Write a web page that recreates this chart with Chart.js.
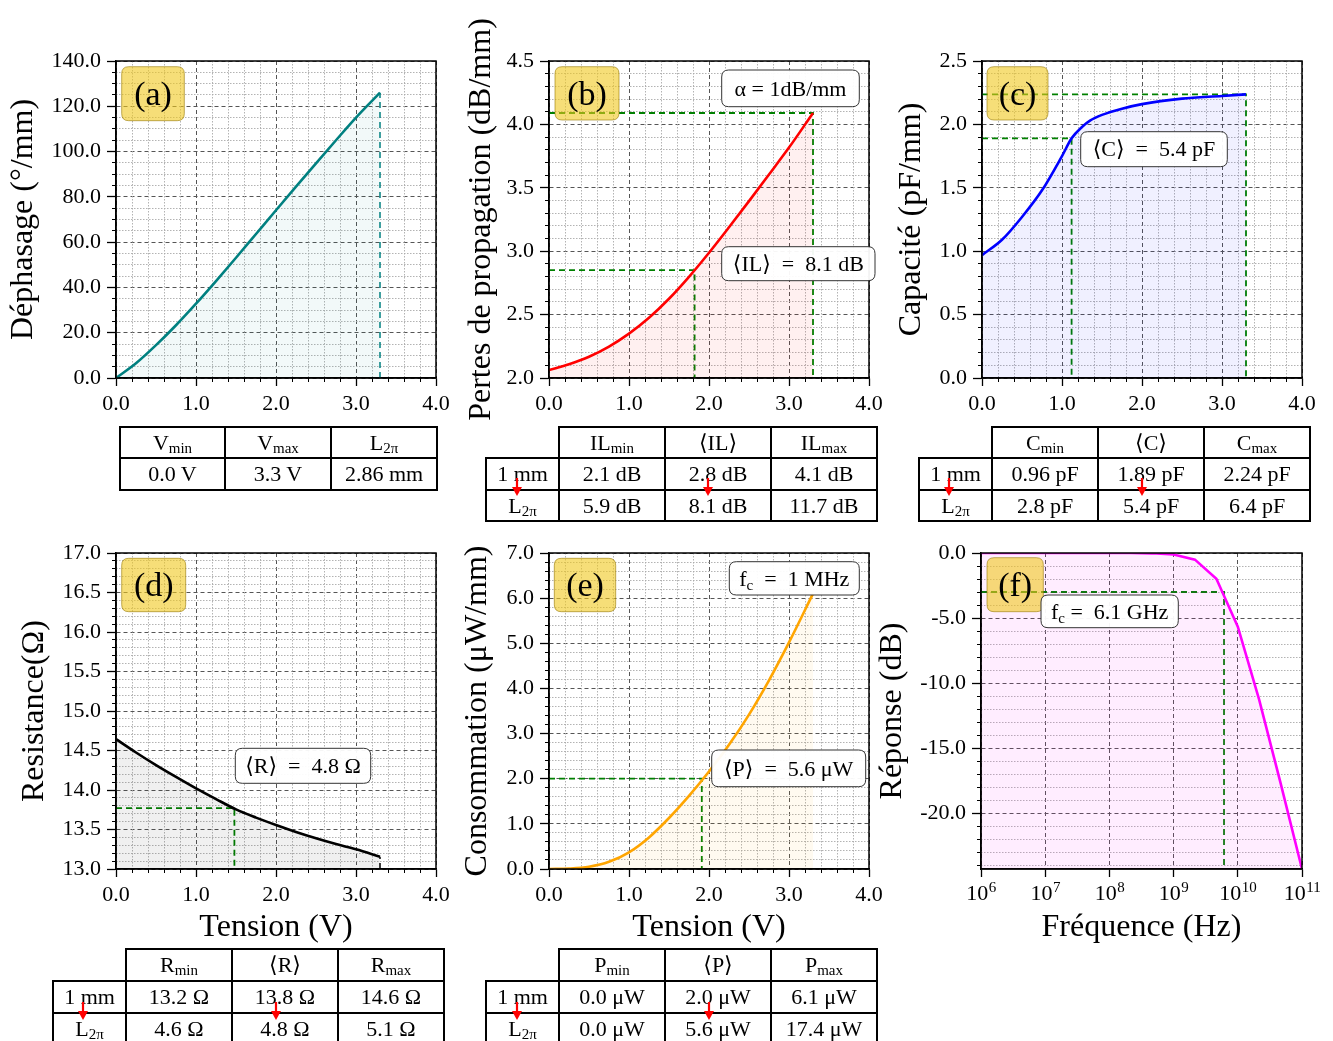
<!DOCTYPE html>
<html>
<head>
<meta charset="utf-8">
<script src="https://cdn.jsdelivr.net/npm/chart.js@4.4.1/dist/chart.umd.min.js"></script>
<style>
body { margin: 0; background: #fff; width: 1333px; height: 1041px; position: relative; overflow: hidden; }
canvas { position: absolute; left: 0; top: 0; }
table.t { position: absolute; border-collapse: collapse; table-layout: fixed; font-family: "Liberation Serif", "DejaVu Serif", serif; font-size: 22px; color: #000; }
table.t td { border: 2px solid #000; text-align: center; padding: 0; line-height: 1; white-space: nowrap; overflow: hidden; }
table.t td.e { border: none; }
table.t sub { font-size: 15px; vertical-align: -3px; line-height: 0; }
svg.arr { position: absolute; }
</style>
</head>
<body>
<canvas id="pa" width="1333" height="1041"></canvas>
<canvas id="pb" width="1333" height="1041"></canvas>
<canvas id="pc" width="1333" height="1041"></canvas>
<canvas id="pd" width="1333" height="1041"></canvas>
<canvas id="pe" width="1333" height="1041"></canvas>
<canvas id="pf" width="1333" height="1041"></canvas>

<table class="t" style="left:119px;top:426px;width:317px">
  <colgroup><col style="width:105px"><col style="width:106px"><col style="width:106px"></colgroup>
  <tr style="height:31px"><td>V<sub>min</sub></td><td>V<sub>max</sub></td><td>L<sub>2π</sub></td></tr>
  <tr style="height:32px"><td>0.0 V</td><td>3.3 V</td><td>2.86 mm</td></tr>
</table>

<table class="t" style="left:485px;top:426px;width:391px">
  <colgroup><col style="width:73px"><col style="width:106px"><col style="width:106px"><col style="width:106px"></colgroup>
  <tr style="height:31px"><td class="e"></td><td>IL<sub>min</sub></td><td>⟨IL⟩</td><td>IL<sub>max</sub></td></tr>
  <tr style="height:32px"><td>1 mm</td><td>2.1 dB</td><td>2.8 dB</td><td>4.1 dB</td></tr>
  <tr style="height:31px"><td>L<sub>2π</sub></td><td>5.9 dB</td><td>8.1 dB</td><td>11.7 dB</td></tr>
</table>

<table class="t" style="left:918px;top:426px;width:391px">
  <colgroup><col style="width:73px"><col style="width:106px"><col style="width:106px"><col style="width:106px"></colgroup>
  <tr style="height:31px"><td class="e"></td><td>C<sub>min</sub></td><td>⟨C⟩</td><td>C<sub>max</sub></td></tr>
  <tr style="height:32px"><td>1 mm</td><td>0.96 pF</td><td>1.89 pF</td><td>2.24 pF</td></tr>
  <tr style="height:31px"><td>L<sub>2π</sub></td><td>2.8 pF</td><td>5.4 pF</td><td>6.4 pF</td></tr>
</table>

<table class="t" style="left:52px;top:948px;width:391px">
  <colgroup><col style="width:73px"><col style="width:106px"><col style="width:106px"><col style="width:106px"></colgroup>
  <tr style="height:32px"><td class="e"></td><td>R<sub>min</sub></td><td>⟨R⟩</td><td>R<sub>max</sub></td></tr>
  <tr style="height:32px"><td>1 mm</td><td>13.2 Ω</td><td>13.8 Ω</td><td>14.6 Ω</td></tr>
  <tr style="height:32px"><td>L<sub>2π</sub></td><td>4.6 Ω</td><td>4.8 Ω</td><td>5.1 Ω</td></tr>
</table>

<table class="t" style="left:485px;top:948px;width:391px">
  <colgroup><col style="width:73px"><col style="width:106px"><col style="width:106px"><col style="width:106px"></colgroup>
  <tr style="height:32px"><td class="e"></td><td>P<sub>min</sub></td><td>⟨P⟩</td><td>P<sub>max</sub></td></tr>
  <tr style="height:32px"><td>1 mm</td><td>0.0 μW</td><td>2.0 μW</td><td>6.1 μW</td></tr>
  <tr style="height:32px"><td>L<sub>2π</sub></td><td>0.0 μW</td><td>5.6 μW</td><td>17.4 μW</td></tr>
</table>

<script>
// data
var tension = [0, 0.25, 0.5, 0.75, 1.0, 1.25, 1.5, 1.75, 2.0, 2.25, 2.5, 2.75, 3.0, 3.3];
var phaseShift = [0, 6.5, 14.5, 23.3, 32.8, 42.8, 53.1, 63.6, 74.1, 84.5, 94.8, 105, 115, 126];
var propLoss = [2.063, 2.109, 2.168, 2.248, 2.35, 2.475, 2.625, 2.798, 2.988, 3.189, 3.395, 3.605, 3.817, 4.09];
var power = [0, 0.01, 0.05, 0.16, 0.37, 0.70, 1.13, 1.62, 2.16, 2.75, 3.42, 4.18, 5.02, 6.1];
var resistance = [14.644, 14.475, 14.315, 14.165, 14.02, 13.885, 13.754, 13.65, 13.556, 13.468, 13.388, 13.315, 13.249, 13.156];
var capTension = [0, 0.25, 0.5, 0.75, 1.0, 1.12, 1.25, 1.35, 1.5, 1.75, 2.0, 2.5, 3.0, 3.3];
var capacity = [0.969, 1.09, 1.27, 1.48, 1.75, 1.89, 1.98, 2.03, 2.075, 2.124, 2.16, 2.203, 2.224, 2.237];
var frequency = [1e6, 2.15e6, 4.64e6, 1e7, 2.15e7, 4.64e7, 1e8, 2.15e8, 4.64e8, 1e9, 2.15e9, 4.64e9, 1e10, 2.15e10, 4.64e10, 1e11];
var response = [0, 0, 0, 0, 0, 0, -0.001, -0.005, -0.025, -0.12, -0.51, -1.98, -5.67, -11.28, -17.7, -24.3];

// tick labels
var voltTicks = [0, 1, 2, 3, 4];
var phaseTicks = [0, 20, 40, 60, 80, 100, 120, 140];
var lossTicks = [2.0, 2.5, 3.0, 3.5, 4.0, 4.5];
var capTicks = [0, 0.5, 1.0, 1.5, 2.0, 2.5];
var resTicks = [13.0, 13.5, 14.0, 14.5, 15.0, 15.5, 16.0, 16.5, 17.0];
var powerTicks = [0, 1, 2, 3, 4, 5, 6, 7];
var respTicks = [0, -5, -10, -15, -20];
var freqTicks = [1e6, 1e7, 1e8, 1e9, 1e10, 1e11];

// dashed reference lines (data units)
var lossGuides = [[[0, 4.09], [3.3, 4.09], [3.3, 2.0]], [[0, 2.85], [1.82, 2.85], [1.82, 2.0]]];
var capGuides = [[[0, 2.237], [3.3, 2.237], [3.3, 0]], [[0, 1.89], [1.12, 1.89], [1.12, 0]]];
var resGuides = [[[0, 13.77], [1.48, 13.77], [1.48, 13.0]]];
var powerGuides = [[[0, 2.0], [1.91, 2.0], [1.91, 0]]];
var respGuides = [[[1e6, -3], [6.1e9, -3], [6.1e9, -24.3]]];
var phaseEnd = [[3.3, 0], [3.3, 126]];
var resEnd = [[3.3, 13.0], [3.3, 13.156]];

var FAMILY = '"Liberation Serif", "DejaVu Serif", serif';
var PAGE_W = 1333, PAGE_H = 1041;

function pts(list) {
    return list.map(function(q) { return {x: q[0], y: q[1]}; });
}

function roundRect(ctx, x, y, w, h, r) {
    ctx.beginPath();
    ctx.moveTo(x + r, y);
    ctx.lineTo(x + w - r, y);
    ctx.quadraticCurveTo(x + w, y, x + w, y + r);
    ctx.lineTo(x + w, y + h - r);
    ctx.quadraticCurveTo(x + w, y + h, x + w - r, y + h);
    ctx.lineTo(x + r, y + h);
    ctx.quadraticCurveTo(x, y + h, x, y + h - r);
    ctx.lineTo(x, y + r);
    ctx.quadraticCurveTo(x, y, x + r, y);
    ctx.closePath();
}

// text pieces: [string, isSubscript]
function drawRich(ctx, parts, cx, cy, size) {
    var big = size + 'px ' + FAMILY, small = Math.round(size * 0.68) + 'px ' + FAMILY;
    var total = 0;
    parts.forEach(function(p) { ctx.font = p[1] ? small : big; total += ctx.measureText(p[0]).width; });
    var x = cx - total / 2;
    ctx.fillStyle = '#000';
    ctx.textBaseline = 'alphabetic';
    ctx.textAlign = 'left';
    parts.forEach(function(p) {
        ctx.font = p[1] ? small : big;
        ctx.fillText(p[0], x, cy + size * 0.33 + (p[1] ? size * 0.22 : 0));
        x += ctx.measureText(p[0]).width;
    });
}

var framePlugin = {
    id: 'frame',
    afterDatasetsDraw: function(chart) {
        var a = chart.chartArea, c = chart.ctx;
        c.save();
        c.strokeStyle = '#000';
        c.lineWidth = 1.5;
        c.strokeRect(a.left, a.top, a.right - a.left, a.bottom - a.top);
        c.restore();
    }
};

var notesPlugin = {
    id: 'notes',
    afterDraw: function(chart, args, opts) {
        var a = chart.chartArea, c = chart.ctx;
        (opts.items || []).forEach(function(n) {
            var x = a.left + n.dx, y = a.top + n.dy;
            c.save();
            roundRect(c, x, y, n.w, n.h, 7);
            if (n.tag) {
                c.fillStyle = 'rgba(240,200,30,0.6)';
                c.strokeStyle = 'rgba(150,120,0,0.6)';
            } else {
                c.fillStyle = 'rgba(255,255,255,0.95)';
                c.strokeStyle = '#333';
            }
            c.fill();
            c.lineWidth = 1;
            c.stroke();
            drawRich(c, n.parts, x + n.w / 2, y + n.h / 2, n.size);
            c.restore();
        });
    }
};

// 10^n labels with a raised exponent, placed with the x scale
var powerLabels = {
    id: 'powerLabels',
    afterDraw: function(chart, args, opts) {
        if (!opts.on) return;
        var s = chart.scales.x, c = chart.ctx, base = chart.chartArea.bottom + 31;
        c.save();
        c.fillStyle = '#000';
        c.textAlign = 'left';
        c.textBaseline = 'alphabetic';
        s.ticks.forEach(function(t) {
            var e = String(Math.round(Math.log10(t.value)));
            c.font = '22px ' + FAMILY;
            var w1 = c.measureText('10').width;
            c.font = '15px ' + FAMILY;
            var w2 = c.measureText(e).width;
            var x0 = s.getPixelForValue(t.value) - (w1 + w2) / 2;
            c.font = '22px ' + FAMILY;
            c.fillText('10', x0, base);
            c.font = '15px ' + FAMILY;
            c.fillText(e, x0 + w1 + 0.5, base - 8);
        });
        c.restore();
    }
};

function minorTicks(min, max, step, major) {
    return function(s) {
        var t = [];
        var start = Math.ceil(min / step - 1e-9) * step;
        for (var v = start; v <= max + 1e-9; v += step) {
            var r = v / major;
            if (Math.abs(r - Math.round(r)) < 1e-6) continue;
            t.push({value: +v.toFixed(6)});
        }
        s.ticks = t;
    };
}

function fixed1(v) { return Number(v).toFixed(1); }

function buildPanel(p) {
    var area = p.area; // left, top, right, bottom of the plot box
    var xH = p.xTitle ? 90 : 40;
    var tickFont = {family: FAMILY, size: 22};
    var titleFont = {family: FAMILY, size: 32, lineHeight: 1.2};

    var datasets = [{
        data: p.xs.map(function(x, i) { return {x: x, y: p.ys[i]}; }),
        borderColor: p.color,
        borderWidth: 2.6,
        backgroundColor: p.fill,
        fill: 'start',
        pointRadius: 0,
        cubicInterpolationMode: p.smooth ? 'monotone' : 'default',
        tension: 0
    }];
    (p.guides || []).forEach(function(g) {
        datasets.push({
            data: pts(g.pts),
            borderColor: g.color,
            borderWidth: g.width || 1.8,
            borderDash: [6, 4],
            pointRadius: 0,
            fill: false,
            tension: 0
        });
    });

    var scales = {
        x: {
            type: p.xType || 'linear',
            position: 'bottom',
            weight: 1,
            min: p.xMin, max: p.xMax,
            afterBuildTicks: function(s) { s.ticks = p.xTicks.map(function(v) { return {value: v}; }); },
            afterFit: function(s) { s.height = xH; },
            ticks: {display: !p.powerLabels, font: tickFont, color: '#000', padding: 5, maxRotation: 0, autoSkip: false, callback: fixed1},
            grid: {color: '#555', lineWidth: 1, tickColor: '#000', tickLength: 8, tickWidth: 1.3},
            border: {display: true, color: '#000', width: 1.5, dash: [4, 3]},
            title: {display: !!p.xTitle, text: p.xTitle, color: '#000', font: titleFont, padding: {top: 0, bottom: 11.8}}
        },
        y: {
            type: 'linear',
            position: 'left',
            weight: 1,
            min: p.yMin, max: p.yMax,
            afterBuildTicks: function(s) { s.ticks = p.yTicks.map(function(v) { return {value: v}; }); },
            afterFit: function(s) { s.width = area[0]; },
            ticks: {font: tickFont, color: '#000', padding: 6, autoSkip: false, callback: fixed1},
            grid: {color: '#555', lineWidth: 1, tickColor: '#000', tickLength: 9, tickWidth: 1.3},
            border: {display: true, color: '#000', width: 1.5, dash: [4, 3]},
            title: {display: true, text: p.yTitle, color: '#000', font: titleFont, padding: {top: p.yTitleX - 19.2, bottom: 0}}
        },
        ym: {
            type: 'linear',
            position: 'left',
            weight: 0,
            min: p.yMin, max: p.yMax,
            afterBuildTicks: minorTicks(p.yMin, p.yMax, p.yMinor, p.yMajor),
            afterFit: function(s) { s.width = 0; },
            ticks: {display: false},
            grid: {color: '#aaa', lineWidth: 0.9, tickColor: '#000', tickLength: 4, tickWidth: 1},
            border: {display: false, dash: [1.5, 1.5]}
        }
    };
    if (p.xMinor) {
        scales.xm = {
            type: 'linear',
            position: 'bottom',
            weight: 0,
            min: p.xMin, max: p.xMax,
            afterBuildTicks: minorTicks(p.xMin, p.xMax, p.xMinor, p.xMajor),
            afterFit: function(s) { s.height = 0; },
            ticks: {display: false},
            grid: {color: '#aaa', lineWidth: 0.9, tickColor: '#000', tickLength: 4, tickWidth: 1},
            border: {display: false, dash: [1.5, 1.5]}
        };
    }

    return new Chart(document.getElementById(p.id).getContext('2d'), {
        type: 'line',
        data: {datasets: datasets},
        options: {
            responsive: false,
            animation: false,
            devicePixelRatio: 1,
            events: [],
            layout: {padding: {left: 0, top: area[1], right: PAGE_W - area[2], bottom: PAGE_H - area[3] - xH}},
            scales: scales,
            plugins: {
                legend: {display: false},
                tooltip: {enabled: false},
                notes: {items: p.notes},
                powerLabels: {on: !!p.powerLabels}
            }
        },
        plugins: [framePlugin, notesPlugin, powerLabels]
    });
}

function tag(text, dx, dy, w, h) {
    return {tag: true, parts: [[text, false]], size: 34, dx: dx, dy: dy, w: w, h: h};
}

document.addEventListener('DOMContentLoaded', function() {
    var green = '#008000';

    buildPanel({
        id: 'pa', area: [116, 61, 436, 378],
        xs: tension, ys: phaseShift, color: '#008080', fill: 'rgba(0,128,128,0.05)', smooth: true,
        xMin: 0, xMax: 4, xTicks: voltTicks, xMinor: 0.2, xMajor: 1,
        yMin: 0, yMax: 140, yTicks: phaseTicks, yMinor: 5, yMajor: 20,
        yTitle: 'Déphasage (°/mm)', yTitleX: 24,
        guides: [{pts: phaseEnd, color: '#008080', width: 1.5}],
        notes: [tag('(a)', 5.7, 5.7, 62.6, 54)]
    });

    buildPanel({
        id: 'pb', area: [549, 61, 869, 378],
        xs: tension, ys: propLoss, color: '#ff0000', fill: 'rgba(255,0,0,0.06)', smooth: true,
        xMin: 0, xMax: 4, xTicks: voltTicks, xMinor: 0.2, xMajor: 1,
        yMin: 2, yMax: 4.5, yTicks: lossTicks, yMinor: 0.1, yMajor: 0.5,
        yTitle: 'Pertes de propagation (dB/mm)', yTitleX: 482,
        guides: lossGuides.map(function(g) { return {pts: g, color: green}; }),
        notes: [
            tag('(b)', 6, 5.7, 64, 53.3),
            {parts: [['α = 1dB/mm', false]], size: 22, dx: 172.7, dy: 9, w: 137.6, h: 36.7},
            {parts: [['⟨IL⟩  =  8.1 dB', false]], size: 22, dx: 172.7, dy: 185.7, w: 153.3, h: 34}
        ]
    });

    buildPanel({
        id: 'pc', area: [982, 61, 1302, 378],
        xs: capTension, ys: capacity, color: '#0000ff', fill: 'rgba(0,0,255,0.06)', smooth: true,
        xMin: 0, xMax: 4, xTicks: voltTicks, xMinor: 0.2, xMajor: 1,
        yMin: 0, yMax: 2.5, yTicks: capTicks, yMinor: 0.1, yMajor: 0.5,
        yTitle: 'Capacité (pF/mm)', yTitleX: 912,
        guides: capGuides.map(function(g) { return {pts: g, color: green}; }),
        notes: [
            tag('(c)', 5, 5.7, 61, 53.3),
            {parts: [['⟨C⟩  =  5.4 pF', false]], size: 22, dx: 98.7, dy: 70.7, w: 146.6, h: 35}
        ]
    });

    buildPanel({
        id: 'pd', area: [116, 553, 436, 869],
        xs: tension, ys: resistance, color: '#000000', fill: 'rgba(0,0,0,0.06)', smooth: true,
        xMin: 0, xMax: 4, xTicks: voltTicks, xMinor: 0.2, xMajor: 1,
        yMin: 13, yMax: 17, yTicks: resTicks, yMinor: 0.1, yMajor: 0.5,
        yTitle: 'Resistance(Ω)', yTitleX: 35, xTitle: 'Tension (V)',
        guides: resGuides.map(function(g) { return {pts: g, color: green}; }).concat([{pts: resEnd, color: '#000', width: 1.5}]),
        notes: [
            tag('(d)', 5.7, 5.3, 64, 53.4),
            {parts: [['⟨R⟩  =  4.8 Ω', false]], size: 22, dx: 119.3, dy: 195.3, w: 135.4, h: 35}
        ]
    });

    buildPanel({
        id: 'pe', area: [549, 553, 869, 869],
        xs: tension, ys: power, color: '#ffa500', fill: 'rgba(255,165,0,0.06)', smooth: true,
        xMin: 0, xMax: 4, xTicks: voltTicks, xMinor: 0.2, xMajor: 1,
        yMin: 0, yMax: 7, yTicks: powerTicks, yMinor: 0.2, yMajor: 1,
        yTitle: 'Consommation (μW/mm)', yTitleX: 478, xTitle: 'Tension (V)',
        guides: powerGuides.map(function(g) { return {pts: g, color: green}; }),
        notes: [
            tag('(e)', 5.3, 5.3, 61.4, 53.4),
            {parts: [['f', false], ['c', true], ['  =  1 MHz', false]], size: 22, dx: 180.3, dy: 8.7, w: 130, h: 33.3},
            {parts: [['⟨P⟩  =  5.6 μW', false]], size: 22, dx: 162.7, dy: 197, w: 154, h: 36.7}
        ]
    });

    buildPanel({
        id: 'pf', area: [981, 553, 1302, 869],
        xs: frequency, ys: response, color: '#ff00ff', fill: 'rgba(255,0,255,0.07)', smooth: false,
        xType: 'logarithmic', xMin: 1e6, xMax: 1e11, xTicks: freqTicks, powerLabels: true,
        yMin: -24.3, yMax: 0, yTicks: respTicks, yMinor: 1, yMajor: 5,
        yTitle: 'Réponse (dB)', yTitleX: 893, xTitle: 'Fréquence (Hz)',
        guides: respGuides.map(function(g) { return {pts: g, color: green}; }),
        notes: [
            tag('(f)', 6, 4.7, 56.3, 54),
            {parts: [['f', false], ['c', true], [' =  6.1 GHz', false]], size: 22, dx: 60, dy: 42, w: 137.3, h: 32.7}
        ]
    });

    // red arrows under the "1 mm" labels
    var arrowSpots = [[516.7, 478], [708.3, 478], [949.3, 478], [1141.7, 478], [83.3, 1001.7], [275.7, 1001.7], [516.7, 1001.7], [708.7, 1001.7]];
    arrowSpots.forEach(function(s) {
        var svg = document.createElementNS('http://www.w3.org/2000/svg', 'svg');
        svg.setAttribute('class', 'arr');
        svg.setAttribute('width', '12');
        svg.setAttribute('height', '19');
        svg.style.left = (s[0] - 6) + 'px';
        svg.style.top = s[1] + 'px';
        svg.innerHTML = '<line x1="6" y1="0" x2="6" y2="11" stroke="#f00" stroke-width="2.2"/><polygon points="1,9 11,9 6,18" fill="#f00"/>';
        document.body.appendChild(svg);
    });
});
</script>
</body>
</html>
